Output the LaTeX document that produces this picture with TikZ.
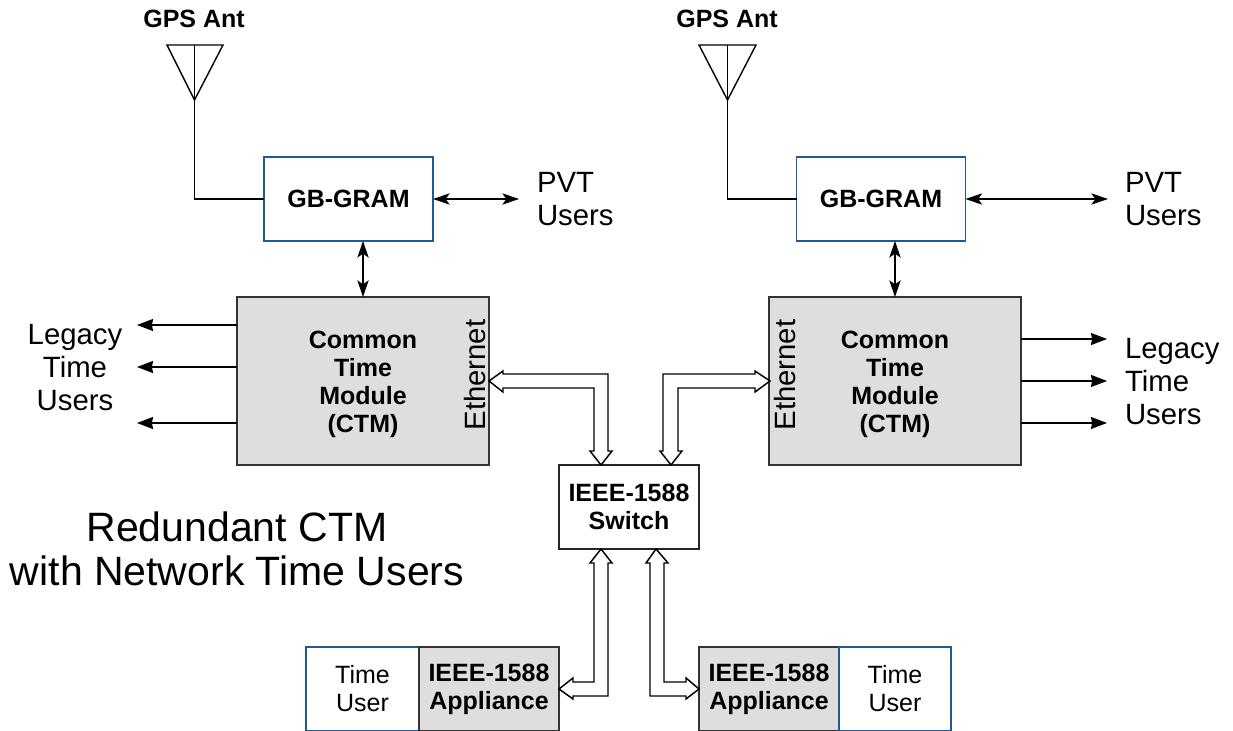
\documentclass[tikz,border=0pt]{standalone}
\usepackage{fontspec}
\setmainfont{Liberation Sans}
\usetikzlibrary{arrows.meta,calc}
\definecolor{boxgray}{HTML}{DEDEDE}
\definecolor{boxblue}{HTML}{1F5A96}
\newcommand{\fsb}{\fontsize{18.75pt}{21pt}\selectfont\bfseries}
\newcommand{\fsu}{\fontsize{18.75pt}{21pt}\selectfont}
\newcommand{\fsl}{\fontsize{22pt}{24.75pt}\selectfont}
\newcommand{\fst}{\fontsize{30.75pt}{33pt}\selectfont}
\tikzset{
  x=0.75pt,y=-0.75pt,
  wh/.style 2 args={minimum width=#1*0.75pt,minimum height=#2*0.75pt,inner sep=0pt,outer sep=0pt,align=center,anchor=center},
  bluebox/.style={draw=boxblue,line width=1.1pt,fill=white},
  graybox/.style={draw=black!80,line width=1.3pt,fill=boxgray},
  plainbox/.style={draw=black!85,line width=1.3pt,fill=white},
  lab/.style={inner sep=0pt,outer sep=0pt,align=center},
  wire/.style={draw=black,line width=1.05pt},
  bi/.style={wire,{Stealth[length=12.5pt,width=8.5pt,inset=3pt]}-{Stealth[length=12.5pt,width=8.5pt,inset=3pt]}},
  uni/.style={wire,-{Stealth[length=12pt,width=9pt,inset=0.8pt]}},
  hollow/.style={draw=black,line width=1.1pt,fill=white,line join=miter},
}
\begin{document}
\begin{tikzpicture}
\useasboundingbox (0,0) rectangle (1233,731);
% boxes
\node[wh={169}{84},bluebox,font=\fsb] (gram1) at (348.5,199) {GB-GRAM};
\node[wh={169}{84},bluebox,font=\fsb] (gram2) at (881,199) {GB-GRAM};
\node[wh={252}{168},graybox] (ctm1) at (363,381) {};
\node[wh={252}{168},graybox] (ctm2) at (895,381) {};
\node[lab,font=\fsb] (ctm1t) at (363,384) {Common\\Time\\Module\\(CTM)};
\node[lab,font=\fsb] (ctm2t) at (895,384) {Common\\Time\\Module\\(CTM)};
\node[lab,rotate=90,font=\fsl] (eth1) at (475,375) {Ethernet};
\node[lab,rotate=90,font=\fsl] (eth2) at (785,375) {Ethernet};
\node[wh={140}{84},plainbox,font=\fsb] (sw) at (629,507) {IEEE-1588\\Switch};
\node[wh={113}{84},bluebox,font=\fsu] (tu1) at (362.5,689) {Time\\User};
\node[wh={140}{84},graybox,font=\fsb] (app1) at (489,689) {IEEE-1588\\Appliance};
\node[wh={140}{84},graybox,font=\fsb] (app2) at (769,689) {IEEE-1588\\Appliance};
\node[wh={112}{84},bluebox,font=\fsu] (tu2) at (895,689) {Time\\User};
% labels
\node[lab,font=\fsb] (ant1) at (194,19) {GPS Ant};
\node[lab,font=\fsb] (ant2) at (727,19) {GPS Ant};
\node[lab,font=\fsl,align=left,anchor=west] (pvt1) at (537,199.5) {PVT\\Users};
\node[lab,font=\fsl,align=left,anchor=west] (pvt2) at (1125,199.5) {PVT\\Users};
\node[lab,font=\fsl,anchor=center] (leg1) at (75,367.5) {Legacy\\Time\\Users};
\node[lab,font=\fsl,align=left,anchor=west] (leg2) at (1125,381.5) {Legacy\\Time\\Users};
\node[lab,font=\fst] (title) at (237,549) {Redundant CTM\\with Network Time Users};
% antennas
\coordinate (a1l) at (167,45); \coordinate (a1r) at (223,45); \coordinate (a1t) at (194.5,45); \coordinate (a1b) at (194.5,100);
\coordinate (a2l) at (699,45); \coordinate (a2r) at (756,45); \coordinate (a2t) at (727.5,45); \coordinate (a2b) at (727.5,100);
\draw[wire,line join=miter] (a1l) -- (a1r) -- (a1b) -- cycle;
\draw[wire,line join=miter] (a2l) -- (a2r) -- (a2b) -- cycle;
\draw[wire] (a1t) |- (gram1.west);
\draw[wire] (a2t) |- (gram2.west);
% double arrows
\coordinate (p1) at (519,199); \coordinate (p2) at (1108,199);
\draw[bi] (gram1.east) -- (p1);
\draw[bi] (gram2.east) -- (p2);
\draw[bi] (gram1.south -| ctm1.north) -- (ctm1.north);
\draw[bi] (gram2.south -| ctm2.north) -- (ctm2.north);
% legacy arrows
\foreach \n/\yy in {a/325,b/367,c/423}{
  \coordinate (ll\n) at (137,\yy);
  \draw[uni] (ctm1.west |- ll\n) -- (ll\n);
}
\foreach \n/\yy in {a/339,b/381,c/423}{
  \coordinate (lr\n) at (1107,\yy);
  \draw[uni] (ctm2.east |- lr\n) -- (lr\n);
}
% hollow double-headed arrows
\coordinate (h1) at (489,381);
\coordinate (h2) at (770,381);
\coordinate (h3) at (559,689);
\coordinate (h4) at (699,689);
\draw[hollow] (h1) -- ++(14,-10) -- ++(0,3) -- (608,374) -- (608,451) -- (612,451) -- (601,465) -- (590,451) -- (594,451) -- (594,388) -- (503,388) -- (503,392) -- cycle;
\draw[hollow] (h2) -- ++(-15,-10) -- ++(0,3) -- (663,374) -- (663,451) -- (660,451) -- (671,465) -- (682,451) -- (678,451) -- (678,388) -- (755,388) -- (755,392) -- cycle;
\draw[hollow] (h3) -- ++(14,-11) -- ++(0,4) -- (594,682) -- (594,563) -- (590,563) -- (601,549) -- (612,563) -- (608,563) -- (608,696) -- (573,696) -- (573,699) -- cycle;
\draw[hollow] (h4) -- ++(-13,-11) -- ++(0,4) -- (664,682) -- (664,563) -- (668,563) -- (656,549) -- (646,563) -- (650,563) -- (650,696) -- (686,696) -- (686,699) -- cycle;
\end{tikzpicture}
\end{document}
